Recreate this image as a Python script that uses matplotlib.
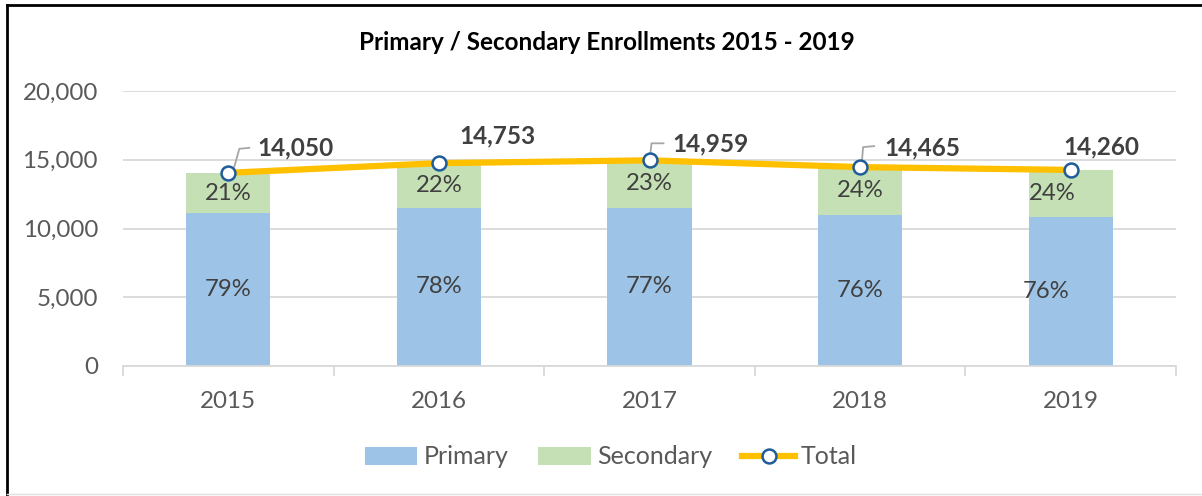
import matplotlib
matplotlib.use("Agg")
import matplotlib.pyplot as plt
from matplotlib import transforms
from matplotlib.lines import Line2D
from matplotlib.patches import Patch
import numpy as np

plt.rcParams['font.family'] = ['Lato', 'DejaVu Sans']

years = ["2015", "2016", "2017", "2018", "2019"]
primary = [11100, 11507, 11518, 10993, 10838]
secondary = [2950, 3246, 3441, 3472, 3422]
totals = [14050, 14753, 14959, 14465, 14260]
primary_pct = ["79%", "78%", "77%", "76%", "76%"]
secondary_pct = ["21%", "22%", "23%", "24%", "24%"]
yticks = [0, 5000, 10000, 15000, 20000]

W, H = 1202, 496
fig = plt.figure(figsize=(W / 100, H / 100), dpi=100)
ax = fig.add_axes([123 / W, 1 - 366 / H, (1176 - 123) / W, (366 - 91) / H])

x = np.arange(len(years))
c_prim = '#9DC3E6'
c_sec = '#C5E0B4'
c_line = '#FFC000'
c_mark = '#1F5C99'
txt = '#404040'
tick_c = '#595959'

ax.bar(x, primary, width=0.4, color=c_prim, zorder=2)
ax.bar(x, secondary, width=0.4, bottom=primary, color=c_sec, zorder=2)
ax.plot(x, totals, color=c_line, lw=4.5, marker='o', ms=10, mfc='white',
        mec=c_mark, mew=1.8, zorder=5, solid_capstyle='round')

ax.set_xlim(-0.5, len(years) - 0.5)
ax.set_ylim(0, 20000)
ax.set_yticks(yticks)
ax.set_yticklabels([f"{v:,}" for v in yticks])
ax.yaxis.grid(True, color='#D9D9D9', lw=1.3)
ax.set_axisbelow(True)
for s in ['top', 'right', 'left']:
    ax.spines[s].set_visible(False)
ax.spines['bottom'].set_color('#D9D9D9')
ax.spines['bottom'].set_linewidth(1.3)
ax.tick_params(axis='y', length=0, pad=18, labelsize=17.4, labelcolor=tick_c)
ax.set_xticks(x)
ax.set_xticklabels(years)
ax.tick_params(axis='x', length=0, pad=18, labelsize=17.4, labelcolor=tick_c)
ax.set_xticks(np.arange(-0.5, len(years)), minor=True)
ax.tick_params(axis='x', which='minor', length=7, width=1.3, color='#D9D9D9')

# percentage labels
p_off = [0, 0, 0, 0, -25]
s_off = [0, 0, 0, 0, -18]
for i in range(len(years)):
    ax.annotate(primary_pct[i], (x[i], primary[i] / 2), xytext=(p_off[i] * 0.72, 0),
                textcoords='offset points', ha='center', va='center',
                fontsize=17.2, color=txt, zorder=6)
    ax.annotate(secondary_pct[i], (x[i], primary[i] + secondary[i] / 2),
                xytext=(s_off[i] * 0.72, 0), textcoords='offset points',
                ha='center', va='center', fontsize=17.2, color=txt, zorder=6)

# total labels (pixel offsets: dx right, dy up, from marker)
lab_off = [(29, 25), (20, 27), (23, 16), (24, 19), (-7, 23)]
leaders = {
    0: [(6, 6), (11, 24), (21, 25)],
    2: [(1, 8), (2, 17), (14, 17)],
    3: [(2, 8), (3, 20), (14, 21)],
}
for i in range(len(years)):
    dx, dy = lab_off[i]
    ax.annotate(f"{totals[i]:,}", (x[i], totals[i]), xytext=(dx * 0.72, dy * 0.72),
                textcoords='offset points', ha='left', va='center',
                fontsize=17.6, fontweight='bold', color=txt, zorder=7)
    if i in leaders:
        pts = np.array(leaders[i], dtype=float) / 100.0
        tr = fig.dpi_scale_trans + transforms.ScaledTranslation(x[i], totals[i], ax.transData)
        ax.add_line(Line2D(pts[:, 0], pts[:, 1], transform=tr, color='#A6A6A6',
                           lw=1.3, zorder=4, clip_on=False))

# title
fig.text(607 / W, 1 - 43 / H, "Primary / Secondary Enrollments 2015 - 2019",
         ha='center', va='center', fontsize=17.5, fontweight='bold', color='black')

# legend
handles = [Patch(facecolor=c_prim, edgecolor='none'),
           Patch(facecolor=c_sec, edgecolor='none'),
           Line2D([0], [0], color=c_line, lw=4.5, marker='o', ms=10, mfc='white',
                  mec=c_mark, mew=1.8)]
leg = fig.legend(handles, ["Primary", "Secondary", "Total"], loc='center',
                 bbox_to_anchor=(611 / W, 1 - 457 / H), ncol=3, frameon=False,
                 fontsize=18, handlelength=2.1, handleheight=0.75, handletextpad=0.25,
                 columnspacing=1.2)
for t in leg.get_texts():
    t.set_color(tick_c)

# border
fig.add_artist(Line2D([7 / W, 7 / W], [0, 1 - 5 / H], transform=fig.transFigure,
                      color='black', lw=2))
fig.add_artist(Line2D([7 / W, 1], [1 - 5 / H, 1 - 5 / H], transform=fig.transFigure,
                      color='black', lw=2))
fig.add_artist(Line2D([7 / W, 1], [1 - 494 / H, 1 - 494 / H], transform=fig.transFigure,
                      color='#E0E0E0', lw=1))

fig.savefig("out.png", dpi=100, facecolor='white')
